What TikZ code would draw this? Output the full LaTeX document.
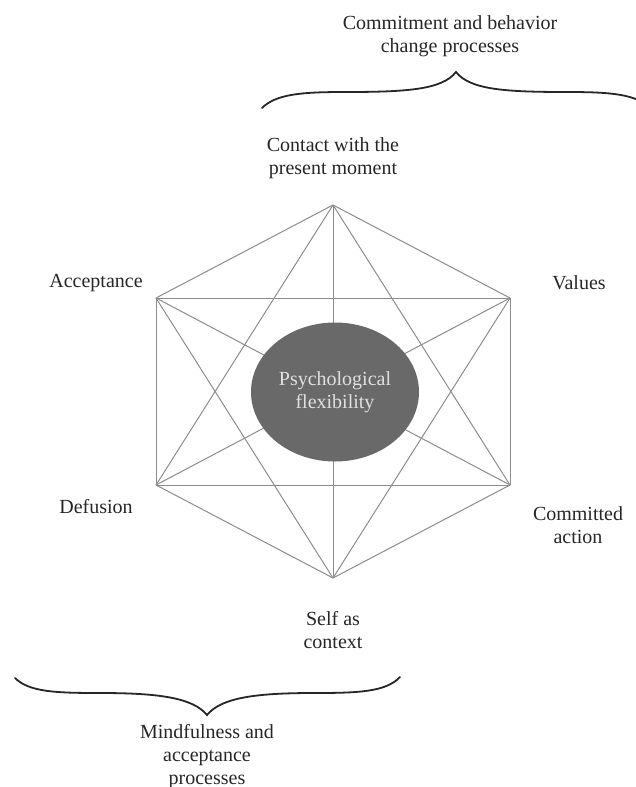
\documentclass[tikz,border=0pt]{standalone}
\usepackage{fontspec}
\setmainfont{Liberation Serif}
\usetikzlibrary{shapes.geometric}

\definecolor{edgegray}{HTML}{8C8C8C}
\definecolor{coregray}{HTML}{696969}
\definecolor{inkgray}{HTML}{262626}

\begin{document}
\begin{tikzpicture}[x=0.5pt,y=-0.5pt,
  web/.style={edgegray,line width=0.5pt},
  lbl/.style={align=center,text=inkgray,inner sep=0pt,font=\fontsize{10}{11.5}\selectfont},
  core/.style={ellipse,fill=coregray,minimum width=84pt,minimum height=69.5pt,inner sep=0pt,
    align=center,text=white!88!black,font=\fontsize{10}{11.5}\selectfont},
  curly/.style={inkgray,line width=0.9pt,line cap=round}]
\useasboundingbox (0,0) rectangle (636,787);

% hexagon corners
\coordinate (contact) at (333,205);
\coordinate (values) at (510,298);
\coordinate (commit) at (510,485);
\coordinate (self) at (333,578);
\coordinate (defus) at (156,485);
\coordinate (accept) at (156,298);

% every corner joined to every other one
\foreach \a/\b in {contact/values,contact/commit,contact/self,contact/defus,contact/accept,
  values/commit,values/self,values/defus,values/accept,
  commit/self,commit/defus,commit/accept,
  self/defus,self/accept,defus/accept}
  \draw[web] (\a)--(\b);

\node[core] (flex) at (335,392) {Psychological\\flexibility};

% the six processes
\node[lbl] (contactlbl) at (333,158) {Contact with the\\present moment};
\node[lbl] (valueslbl) at (579,283) {Values};
\node[lbl] (commitlbl) at (578,525) {Committed\\action};
\node[lbl] (selflbl) at (333,630) {Self as\\context};
\node[lbl] (defuslbl) at (96,507) {Defusion};
\node[lbl] (acceptlbl) at (96,283) {Acceptance};

% braces
\draw[curly] (262,108) .. controls (276,94) and (302,92) .. (345,92)
  .. controls (405,92) and (442,90) .. (456,72)
  .. controls (470,90) and (507,92) .. (567,92)
  .. controls (610,92) and (636,94) .. (650,108);
\node[lbl] (changelbl) at (450,36) {Commitment and behavior\\change processes};

\draw[curly] (15,678) .. controls (29,692) and (56,693) .. (100,693)
  .. controls (160,693) and (193,698) .. (207,715)
  .. controls (221,698) and (254,693) .. (314,693)
  .. controls (358,693) and (386,692) .. (400,677);
\node[lbl] (mindlbl) at (207,757) {Mindfulness and\\acceptance\\processes};
\end{tikzpicture}
\end{document}
